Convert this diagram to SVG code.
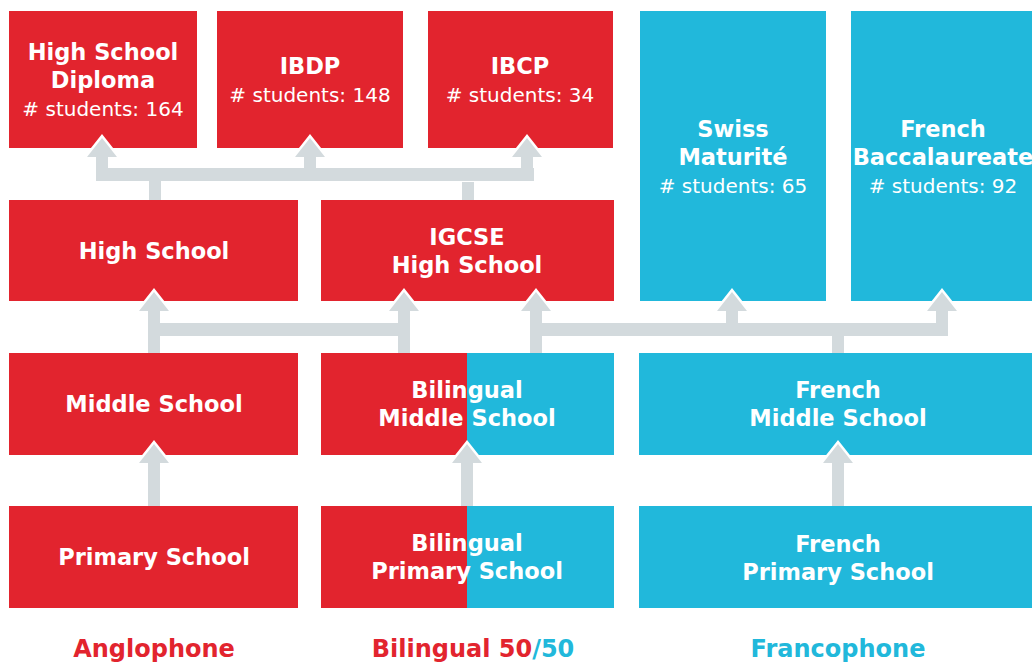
<svg xmlns="http://www.w3.org/2000/svg" width="1032" height="662" viewBox="0 0 1032 662">
<style>
.r{fill:#E2242E}
.b{fill:#21B8DB}
.t{font-family:"DejaVu Sans","Liberation Sans",sans-serif;font-weight:bold;font-size:22.5px;fill:#fff;text-anchor:middle}
.s{font-family:"DejaVu Sans","Liberation Sans",sans-serif;font-size:20px;fill:#fff;text-anchor:middle}
.c{fill:#D3DADD}
.h{fill:#D3DADD;stroke:#fff;stroke-width:5;paint-order:stroke;stroke-linejoin:miter}
.l{font-family:"DejaVu Sans","Liberation Sans",sans-serif;font-weight:bold;font-size:24px;text-anchor:middle}
</style>
<rect width="1032" height="662" fill="#fff"/>
<g id="hsd"><rect class="r" x="9" y="11" width="188" height="137"/><text class="t" x="103" y="60">High School</text><text class="t" x="103" y="88">Diploma</text><text class="s" x="103" y="116"># students: 164</text></g>
<g id="ibdp"><rect class="r" x="217" y="11" width="186" height="137"/><text class="t" x="310" y="74">IBDP</text><text class="s" x="310" y="102"># students: 148</text></g>
<g id="ibcp"><rect class="r" x="428" y="11" width="185" height="137"/><text class="t" x="520" y="74">IBCP</text><text class="s" x="520" y="102"># students: 34</text></g>
<g id="swiss"><rect class="b" x="640" y="11" width="186" height="290"/><text class="t" x="733" y="137">Swiss</text><text class="t" x="733" y="165">Maturité</text><text class="s" x="733" y="193"># students: 65</text></g>
<g id="fbac"><rect class="b" x="851" y="11" width="190" height="290"/><text class="t" x="943" y="137">French</text><text class="t" x="943" y="165">Baccalaureate</text><text class="s" x="943" y="193"># students: 92</text></g>
<g id="hs"><rect class="r" x="9" y="200" width="289" height="101"/><text class="t" x="154" y="259">High School</text></g>
<g id="igcse"><rect class="r" x="321" y="200" width="293" height="101"/><text class="t" x="467" y="245">IGCSE</text><text class="t" x="467" y="273">High School</text></g>
<g id="ms"><rect class="r" x="9" y="353" width="289" height="102"/><text class="t" x="154" y="412">Middle School</text></g>
<g id="bms"><rect class="r" x="321" y="353" width="146" height="102"/><rect class="b" x="467" y="353" width="147" height="102"/><text class="t" x="467" y="398">Bilingual</text><text class="t" x="467" y="426">Middle School</text></g>
<g id="fms"><rect class="b" x="639" y="353" width="400" height="102"/><text class="t" x="838" y="398">French</text><text class="t" x="838" y="426">Middle School</text></g>
<g id="ps"><rect class="r" x="9" y="506" width="289" height="102"/><text class="t" x="154" y="565">Primary School</text></g>
<g id="bps"><rect class="r" x="321" y="506" width="146" height="102"/><rect class="b" x="467" y="506" width="147" height="102"/><text class="t" x="467" y="551">Bilingual</text><text class="t" x="467" y="579">Primary School</text></g>
<g id="fps"><rect class="b" x="639" y="506" width="400" height="102"/><text class="t" x="838" y="552">French</text><text class="t" x="838" y="580">Primary School</text></g>
<g id="connectors">
<polygon class="h" points="87,157 102,138 117,157"/>
<polygon class="h" points="295,157 310,138 325,157"/>
<polygon class="h" points="512,157 527,138 542,157"/>
<rect class="c" x="96" y="155" width="12" height="26"/>
<rect class="c" x="96" y="168" width="438" height="13"/>
<rect class="c" x="304" y="155" width="12" height="14"/>
<rect class="c" x="521" y="155" width="12" height="26"/>
<rect class="c" x="149" y="180" width="12" height="20"/>
<rect class="c" x="462" y="182" width="12" height="18"/>
<polygon class="h" points="139,311 154,292 169,311"/>
<polygon class="h" points="389,311 404,292 419,311"/>
<polygon class="h" points="521,311 536,292 551,311"/>
<polygon class="h" points="717,311 732,292 747,311"/>
<polygon class="h" points="927,311 942,292 957,311"/>
<rect class="c" x="148" y="309" width="12" height="44"/>
<rect class="c" x="398" y="309" width="12" height="44"/>
<rect class="c" x="148" y="323" width="262" height="13"/>
<rect class="c" x="530" y="309" width="12" height="44"/>
<rect class="c" x="530" y="323" width="418" height="13"/>
<rect class="c" x="726" y="309" width="12" height="20"/>
<rect class="c" x="936" y="309" width="12" height="27"/>
<rect class="c" x="832" y="335" width="12" height="18"/>
<polygon class="h" points="139,463 154,444 169,463"/>
<polygon class="h" points="452,463 467,444 482,463"/>
<polygon class="h" points="823,463 838,444 853,463"/>
<rect class="c" x="148" y="461" width="12" height="45"/>
<rect class="c" x="461" y="461" width="12" height="45"/>
<rect class="c" x="832" y="461" width="12" height="45"/>
</g>
<g id="labels">
<text class="l" x="154" y="657" fill="#E2242E">Anglophone</text>
<text class="l" x="473" y="657"><tspan fill="#E2242E">Bilingual 50</tspan><tspan fill="#21B8DB">/50</tspan></text>
<text class="l" x="838" y="657" fill="#21B8DB">Francophone</text>
</g>
</svg>
